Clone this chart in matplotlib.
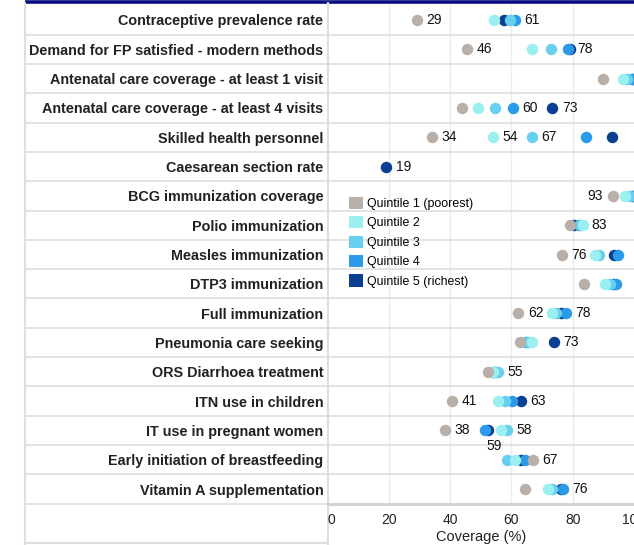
import numpy as np
import matplotlib
matplotlib.use('Agg')
import matplotlib.pyplot as plt
from matplotlib.patches import Patch

plt.rcParams['font.family'] = ['Liberation Sans', 'DejaVu Sans']

categories = ['Contraceptive prevalence rate',
              'Demand for FP satisfied - modern methods',
              'Antenatal care coverage - at least 1 visit',
              'Antenatal care coverage - at least 4 visits',
              'Skilled health personnel',
              'Caesarean section rate',
              'BCG immunization coverage',
              'Polio immunization',
              'Measles immunization',
              'DTP3 immunization',
              'Full immunization',
              'Pneumonia care seeking',
              'ORS Diarrhoea treatment',
              'ITN use in children',
              'IT use in pregnant women',
              'Early initiation of breastfeeding',
              'Vitamin A supplementation']

nan = np.nan
q1 = [29.3, 45.6, 89.9, 43.8, 34.2, nan, 93.0, 79.1, 76.5, 83.8, 62.3, 62.8, 52.3, 40.7, 38.4, 66.9, 64.5]
q2 = [54.2, 66.6, 96.4, 49.0, 54.1, nan, 97.0, 83.2, 87.2, 90.6, 73.4, 66.7, 54.1, 55.6, 56.6, 61.2, 71.8]
q3 = [59.6, 72.9, 97.8, 54.5, 66.7, nan, 98.6, 82.5, 88.6, 92.1, 74.7, 65.4, 55.6, 58.0, 58.6, 58.6, 73.1]
q4 = [61.3, 78.6, 99.5, 60.4, 84.3, nan, 99.5, 81.9, 94.8, 94.0, 77.8, 64.8, 54.5, 60.1, 51.4, 64.5, 76.7]
q5 = [57.6, 79.2, 99.8, 73.4, 92.9, 19.2, 99.8, 80.5, 93.5, 93.2, 76.2, 73.8, 54.0, 63.1, 52.3, 63.0, 76.2]

quintile_names = ['Quintile 1 (poorest)', 'Quintile 2', 'Quintile 3',
                  'Quintile 4', 'Quintile 5 (richest)']
colors = ['#b8afa9', '#9af0f0', '#66d0ee', '#2b9be9', '#0a3f92']
series = [q1, q2, q3, q4, q5]

# value labels: (row, quintile, text, dx, dy, ha) -- offsets in points
labels = [(0, 3, '61', 6.7, 0, 'left'), (0, 0, '29', 6.7, 0, 'left'),
          (1, 0, '46', 6.7, 0, 'left'), (1, 3, '78', 6.7, 0, 'left'),
          (3, 3, '60', 6.7, 0, 'left'), (3, 4, '73', 6.7, 0, 'left'),
          (4, 0, '34', 6.7, 0, 'left'), (4, 1, '54', 6.7, 0, 'left'),
          (4, 2, '67', 6.7, 0, 'left'),
          (5, 4, '19', 6.7, 0, 'left'),
          (6, 0, '93', -6.7, 0, 'right'),
          (7, 1, '83', 6.7, 0, 'left'),
          (8, 0, '76', 6.7, 0, 'left'),
          (10, 0, '62', 6.7, 0, 'left'), (10, 3, '78', 6.7, 0, 'left'),
          (11, 4, '73', 6.7, 0, 'left'),
          (12, 2, '55', 6.7, 0, 'left'),
          (13, 0, '41', 6.7, 0, 'left'), (13, 4, '63', 6.7, 0, 'left'),
          (14, 0, '38', 6.7, 0, 'left'), (14, 2, '58', 6.7, 0, 'left'),
          (14, 2, '59', -9, -11, 'center'),
          (15, 0, '67', 6.7, 0, 'left'),
          (16, 3, '76', 6.7, 0, 'left')]

W, H = 634, 545
fig = plt.figure(figsize=(W / 100, H / 100), dpi=100)

left_px, right_px = 327.5, 634
top_px, bot_px = 5.3, 503.7
tab_left = 25
grid_c = '#dedede'

bg = fig.add_axes([0, 0, 1, 1], zorder=0)
bg.set_xlim(0, W)
bg.set_ylim(H, 0)
bg.axis('off')
bg.plot([tab_left, W], [1.5, 1.5], color='#0b0b80', lw=2.6, solid_capstyle='butt')
bg.plot([tab_left, tab_left], [3, H], color=grid_c, lw=1.5)
bg.plot([left_px, left_px], [3, H], color=grid_c, lw=1.5)
bg.plot([tab_left, left_px], [543, 543], color=grid_c, lw=1.5)

ax = fig.add_axes([left_px / W, (H - bot_px) / H, (right_px - left_px) / W,
                   (bot_px - top_px) / H], zorder=1)
ax.patch.set_alpha(0)
n = len(categories)
y = np.arange(n)

for i in range(4, -1, -1):
    ax.scatter(series[i], y, s=68, color=colors[i], zorder=3 + (4 - i),
               linewidths=0, clip_on=True)

for row, qi, txt, dx, dy, ha in labels:
    ax.annotate(txt, (series[qi][row], row), xytext=(dx, dy),
                textcoords='offset points', ha=ha, va='center',
                fontsize=10, color='#111111', zorder=10)

ax.set_xlim(0, 100)
ax.set_ylim(n - 0.5, -0.5)
ax.set_yticks(y)
ax.set_yticklabels(categories, fontweight='bold', fontsize=10.4, color='#222222')
ax.tick_params(axis='y', length=0, pad=3)
ax.set_xticks([0, 20, 40, 60, 80, 100])
ax.tick_params(axis='x', length=0, pad=7, labelsize=10, labelcolor='#222222')
for lab in ax.get_xticklabels():
    if lab.get_text() == '0':
        lab.set_horizontalalignment('left')
ax.set_xlabel('Coverage (%)', fontsize=10.5, color='#222222', labelpad=2)

for x in [20, 40, 60, 80]:
    ax.axvline(x, color='#ececec', lw=1, zorder=1)
ext = -(left_px - tab_left) / (right_px - left_px)
for b in np.arange(-0.5, n, 1.0)[1:]:
    ax.axhline(b, xmin=ext, xmax=1, color=grid_c, lw=1.2, zorder=1, clip_on=False)
for s in ['top', 'right', 'left']:
    ax.spines[s].set_visible(False)
ax.spines['bottom'].set_color('#d0d0d0')
ax.spines['bottom'].set_linewidth(2)
ax.spines['bottom'].set_bounds(0, 100)

handles = [Patch(facecolor=c, edgecolor='none', label=l) for c, l in zip(colors, quintile_names)]
ax.legend(handles=handles, loc='upper left', bbox_to_anchor=(0.07, 0.616),
          frameon=False, fontsize=8.9, handlelength=1.13, handleheight=1.13,
          handletextpad=0.35, labelspacing=0.5, borderpad=0, borderaxespad=0)

fig.savefig('out.png', dpi=100)
